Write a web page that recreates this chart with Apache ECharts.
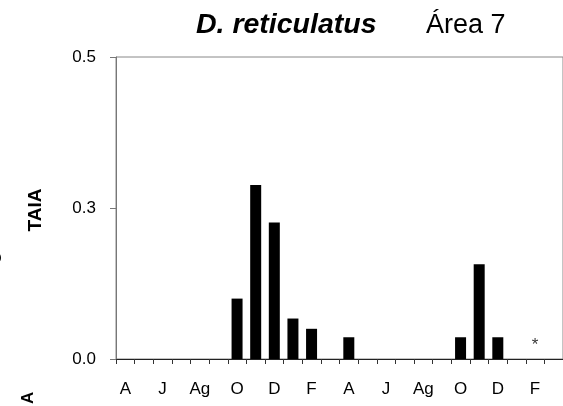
<!DOCTYPE html>
<html>
<head>
<meta charset="utf-8">
<script src="https://cdn.jsdelivr.net/npm/echarts@6/dist/echarts.min.js"></script>
<style>
  html, body { margin: 0; padding: 0; background: #fff; }
  #chart { width: 563px; height: 406px; }
</style>
</head>
<body>
<div id="chart"></div>
<script>
// Monthly sampling, April to March over two seasons
const months = ['A', 'M', 'J', 'Jl', 'Ag', 'S', 'O', 'N', 'D', 'E', 'F', 'Mz',
                'A', 'M', 'J', 'Jl', 'Ag', 'S', 'O', 'N', 'D', 'E', 'F', 'Mz'];
// TAIA per month
const taia = [0, 0, 0, 0, 0, 0, 0.10, 0.288, 0.226, 0.067, 0.05, 0,
              0.036, 0, 0, 0, 0, 0, 0.036, 0.157, 0.036, 0, null, null];
// Months flagged with an asterisk
const flagged = [22];
const yTicks = [0, 0.25, 0.5];
const yTickLabels = ['0.0', '0.3', '0.5'];

const FONT = '"Liberation Sans", Arial, sans-serif';
const chart = echarts.init(document.getElementById('chart'), null, { renderer: 'canvas' });

chart.setOption({
  animation: false,
  backgroundColor: '#fff',
  title: [
    {
      left: 191,
      top: 6,
      text: 'D. reticulatus',
      textStyle: { fontFamily: FONT, fontSize: 28.5, fontWeight: 'bold', fontStyle: 'italic', color: '#000' }
    },
    {
      left: 421,
      top: 7,
      text: 'Área 7',
      textStyle: { fontFamily: FONT, fontSize: 27, fontWeight: 'normal', color: '#000' }
    }
  ],
  grid: { left: 116, top: 57, right: -2, bottom: 47, show: true, borderColor: '#888', borderWidth: 1 },
  xAxis: {
    type: 'category',
    data: months,
    boundaryGap: true,
    axisLine: { lineStyle: { color: '#222', width: 1 } },
    axisTick: { show: true, interval: 0, length: 5, lineStyle: { color: '#333' } },
    axisLabel: {
      interval: 1,
      margin: 22,
      fontFamily: FONT,
      fontSize: 17,
      color: '#000'
    }
  },
  yAxis: {
    type: 'value',
    min: 0,
    max: 0.5,
    interval: 0.25,
    splitLine: { show: false },
    axisLine: { show: true, lineStyle: { color: '#777', width: 1 } },
    axisTick: { show: true, length: 6, lineStyle: { color: '#777' } },
    axisLabel: {
      margin: 20,
      fontFamily: FONT,
      fontSize: 17,
      color: '#000',
      formatter: v => yTickLabels[yTicks.indexOf(v)] ?? ''
    }
  },
  series: [
    {
      type: 'bar',
      data: taia,
      barWidth: 11,
      itemStyle: { color: '#000' }
    },
    {
      type: 'scatter',
      data: flagged.map(i => [i, 0]),
      symbolSize: 0,
      label: {
        show: true,
        position: 'top',
        distance: 5,
        formatter: '*',
        fontFamily: FONT,
        fontSize: 17,
        color: '#000'
      }
    }
  ],
  graphic: [
    {
      type: 'text',
      x: 36,
      y: 210,
      rotation: Math.PI / 2,
      style: {
        text: 'TAIA',
        fontFamily: FONT,
        fontSize: 19,
        fontWeight: 'bold',
        fill: '#000',
        align: 'center',
        verticalAlign: 'middle'
      }
    },
    {
      type: 'text',
      x: 28,
      y: 404,
      rotation: Math.PI / 2,
      style: {
        text: 'A',
        fontFamily: FONT,
        fontSize: 17,
        fontWeight: 'bold',
        fill: '#000',
        align: 'left',
        verticalAlign: 'middle'
      }
    },
    {
      type: 'text',
      x: -4,
      y: 258,
      rotation: Math.PI / 2,
      style: {
        text: 'O',
        fontFamily: FONT,
        fontSize: 17,
        fontWeight: 'bold',
        fill: '#000',
        align: 'center',
        verticalAlign: 'middle'
      }
    }
  ]
});
</script>
</body>
</html>
